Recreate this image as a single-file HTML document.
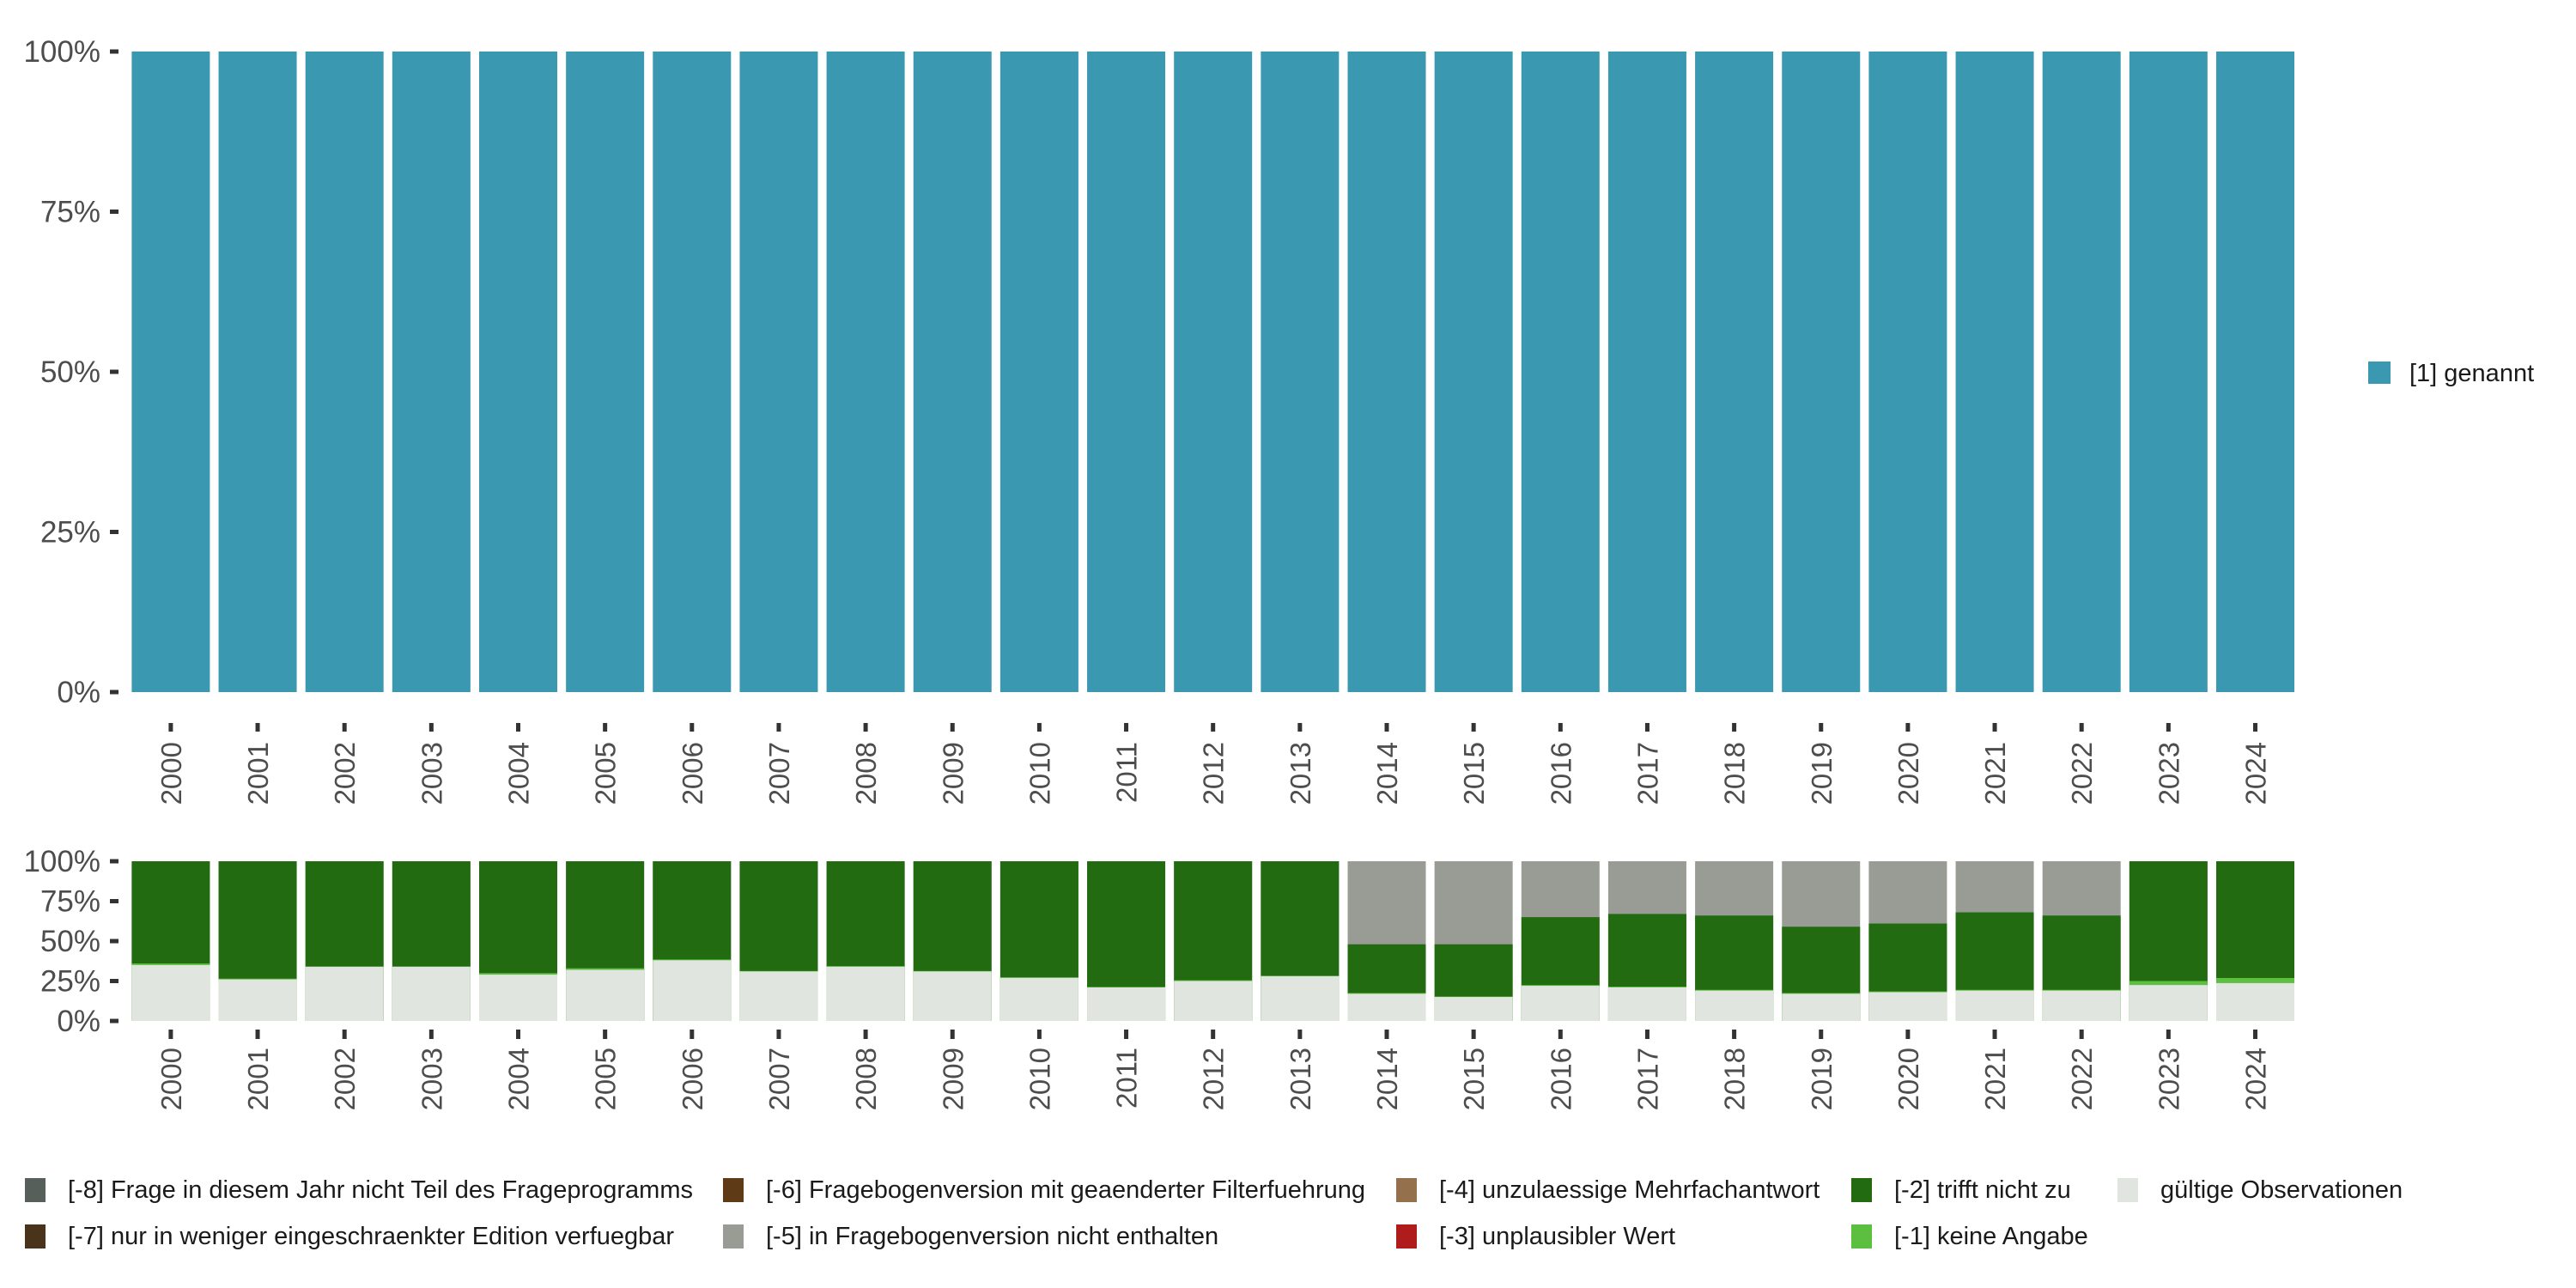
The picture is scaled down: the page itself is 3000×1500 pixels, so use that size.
<!DOCTYPE html>
<html><head><meta charset="utf-8"><style>html,body{margin:0;padding:0;background:#fff}svg{display:block}</style></head>
<body>
<svg id="s" width="3000" height="1500" xmlns="http://www.w3.org/2000/svg" font-family="Liberation Sans, sans-serif"></svg>
<script>
const s=document.getElementById('s');let h='';
const years=[];for(let y=2000;y<=2024;y++)years.push(y);
const x0=153.4,pitch=101.15,bw=91;
const tT=60,tB=806;
[[0,'100%'],[0.25,'75%'],[0.5,'50%'],[0.75,'25%'],[1,'0%']].forEach(([f,l])=>{const y=tT+(tB-tT)*f;
h+=`<text x="117" y="${y+12}" font-size="35" fill="#4d4d4d" text-anchor="end">${l}</text><rect x="128" y="${y-2.5}" width="10" height="5" fill="#333"/>`;});
years.forEach((yr,i)=>{const x=x0+i*pitch;h+=`<rect x="${x}" y="${tT}" width="${bw}" height="${tB-tT}" fill="#3b98b1"/>`;
const c=x+bw/2;h+=`<rect x="${c-2.5}" y="${tB+36}" width="5" height="10" fill="#333"/>`;
h+=`<text transform="translate(${c+12},${tB+58}) rotate(-90)" font-size="33" fill="#4d4d4d" text-anchor="end">${yr}</text>`;});
h+=`<rect x="2758" y="421" width="26" height="26" fill="#3b98b1"/><text x="2806" y="444" font-size="29" fill="#1a1a1a">[1] genannt</text>`;
const bT=1003,bB=1189,H=bB-bT;
[[0,'100%'],[0.25,'75%'],[0.5,'50%'],[0.75,'25%'],[1,'0%']].forEach(([f,l])=>{const y=bT+H*f;
h+=`<text x="117" y="${y+12}" font-size="35" fill="#4d4d4d" text-anchor="end">${l}</text><rect x="128" y="${y-2.5}" width="10" height="5" fill="#333"/>`;});
const d=[[35,1,100],[26,0.5,100],[34,0,100],[34,0,100],[29,1,100],[32,1,100],[38,0.5,100],[31,0.3,100],[34,0.3,100],[31,0.3,100],[27,0.3,100],[21,0.3,100],[25,0.5,100],[28,0.3,100],
[17,0.5,48],[15,0.3,48],[22,0.5,65],[21,0.5,67],[19,0.5,66],[17,0.5,59],[18,0.5,61],[19,0.5,68],[19,0.5,66],[22.5,2.5,100],[23.7,3.2,100]];
years.forEach((yr,i)=>{const x=x0+i*pitch;const [v,k,g]=d[i];const Y=p=>bB-H*p/100;
h+=`<rect x="${x}" y="${bT}" width="${bw}" height="${H}" fill="#999c94"/>`;
h+=`<rect x="${x}" y="${Y(g)}" width="${bw}" height="${Y(0)-Y(g)}" fill="#226b11"/>`;
h+=`<rect x="${x}" y="${Y(v+k)}" width="${bw}" height="${Y(0)-Y(v+k)}" fill="#5cbf3f"/>`;
h+=`<rect x="${x}" y="${Y(v)}" width="${bw}" height="${Y(0)-Y(v)}" fill="#e1e5df"/>`;
const c=x+bw/2;h+=`<rect x="${c-2.5}" y="1199" width="5" height="11" fill="#333"/>`;
h+=`<text transform="translate(${c+12},1220) rotate(-90)" font-size="33" fill="#4d4d4d" text-anchor="end">${yr}</text>`;});
const L=[[29,1385,'#575f5a','[-8] Frage in diesem Jahr nicht Teil des Frageprogramms'],[29,1439,'#4a331b','[-7] nur in weniger eingeschraenkter Edition verfuegbar'],
[842,1385,'#5e3a17','[-6] Fragebogenversion mit geaenderter Filterfuehrung'],[842,1439,'#999c94','[-5] in Fragebogenversion nicht enthalten'],
[1626,1385,'#94704c','[-4] unzulaessige Mehrfachantwort'],[1626,1439,'#b01c1c','[-3] unplausibler Wert'],
[2156,1385,'#226b11','[-2] trifft nicht zu'],[2156,1439,'#5cbf3f','[-1] keine Angabe'],[2466,1385,'#e1e5df','gültige Observationen']];
L.forEach(([x,y,c,t])=>{h+=`<rect x="${x}" y="${y-13}" width="24" height="28" fill="${c}"/><text x="${x+50}" y="${y+10}" font-size="29" fill="#1a1a1a">${t}</text>`;});
s.innerHTML=h;
</script>
</body></html>
